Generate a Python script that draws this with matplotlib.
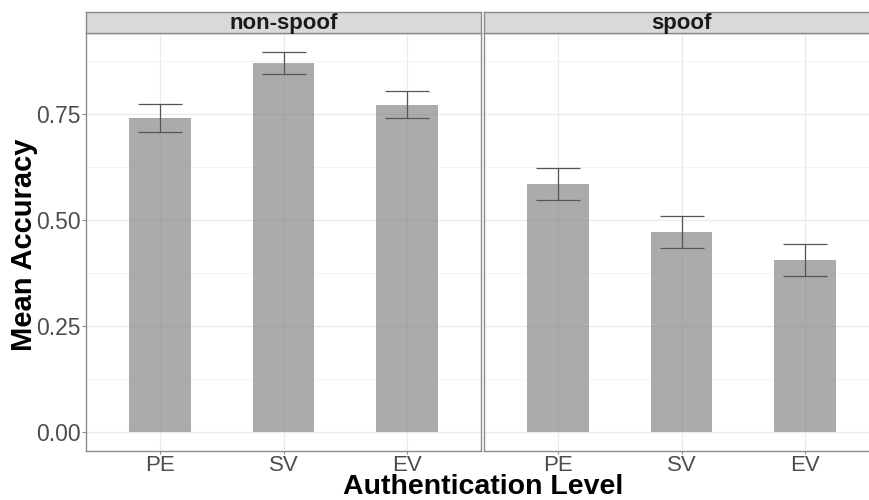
import matplotlib
matplotlib.use("Agg")
import matplotlib.pyplot as plt
import numpy as np

plt.rcParams["font.family"] = ["Liberation Sans", "DejaVu Sans"]

# mean accuracy per authentication level, split by condition
levels = ["PE", "SV", "EV"]
conditions = ["non-spoof", "spoof"]
mean_acc = {
    "non-spoof": [0.740, 0.870, 0.772],
    "spoof": [0.585, 0.472, 0.406],
}
ci_low = {
    "non-spoof": [0.707, 0.845, 0.740],
    "spoof": [0.547, 0.434, 0.368],
}
ci_high = {
    "non-spoof": [0.773, 0.896, 0.804],
    "spoof": [0.622, 0.510, 0.444],
}
y_ticks = [0.0, 0.25, 0.5, 0.75]

W, H = 869, 500
fig = plt.figure(figsize=(W / 100, H / 100), dpi=100)

panel_w = 395
panel_top, panel_bot = 33, 451
strip_top = 12
panel_lefts = [86, 484]

ymax = max(max(v) for v in ci_high.values())
pad = ymax * 0.05
x = np.arange(1, len(levels) + 1)

for i, cond in enumerate(conditions):
    left = panel_lefts[i]
    ax = fig.add_axes([left / W, 1 - panel_bot / H, panel_w / W, (panel_bot - panel_top) / H])
    ax.set_xlim(0.4, 3.6)
    ax.set_ylim(-pad, ymax + pad)

    for yv in np.arange(0.125, 1.0, 0.25):
        ax.axhline(yv, color="#F3F3F3", linewidth=0.6, zorder=0)
    for yv in y_ticks:
        ax.axhline(yv, color="#EBEBEB", linewidth=1.0, zorder=0)
    for xv in x:
        ax.axvline(xv, color="#EBEBEB", linewidth=1.0, zorder=0)

    ax.bar(x, mean_acc[cond], width=0.5, color="#7F7F7F", alpha=0.65, zorder=2)
    lo = np.array(mean_acc[cond]) - np.array(ci_low[cond])
    hi = np.array(ci_high[cond]) - np.array(mean_acc[cond])
    ax.errorbar(x, mean_acc[cond], yerr=[lo, hi], fmt="none", ecolor="#555555",
                elinewidth=0.9, capsize=15.5, capthick=0.9, zorder=3)

    for s in ax.spines.values():
        s.set_color("#8C8C8C")
        s.set_linewidth(1.0)

    ax.set_xticks(x)
    ax.set_xticklabels(levels, fontsize=16, color="#4D4D4D")
    ax.tick_params(axis="x", length=2, color="#8C8C8C", pad=1)
    if i == 0:
        ax.set_yticks(y_ticks)
        ax.set_yticklabels(["0.00", "0.25", "0.50", "0.75"], fontsize=16.5, color="#4D4D4D")
        ax.tick_params(axis="y", length=3, color="#8C8C8C", pad=1)
    else:
        ax.set_yticks(y_ticks)
        ax.set_yticklabels([])
        ax.tick_params(axis="y", length=0)

    # facet strip
    sax = fig.add_axes([left / W, 1 - panel_top / H, panel_w / W, (panel_top - strip_top) / H])
    sax.set_facecolor("#D9D9D9")
    sax.set_xticks([])
    sax.set_yticks([])
    for s in sax.spines.values():
        s.set_color("#8C8C8C")
        s.set_linewidth(1.0)
    sax.text(0.5, 0.45, cond, transform=sax.transAxes, ha="center", va="center",
             fontsize=16, fontweight="bold", color="#1A1A1A")

fig.text(24 / W, 1 - 245 / H, "Mean Accuracy", rotation=90, ha="center", va="center",
         fontsize=21, fontweight="bold")
fig.text(483 / W, 1 - 494 / H, "Authentication Level",
         ha="center", va="baseline", fontsize=20.5, fontweight="bold")

fig.savefig("out.png", dpi=100)
